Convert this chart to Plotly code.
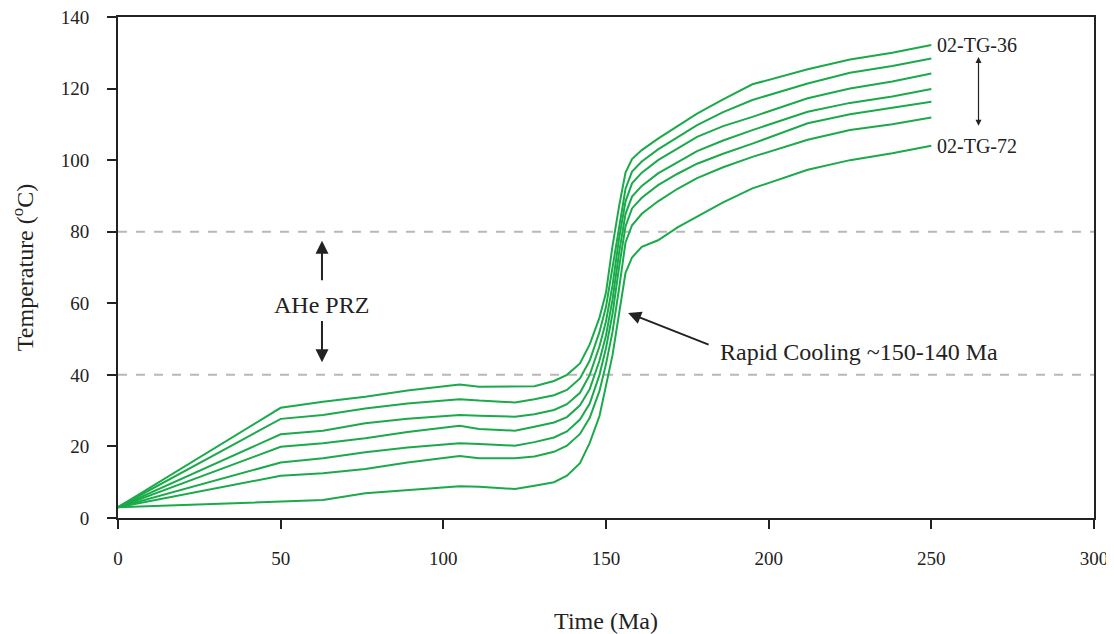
import plotly.graph_objects as go

time_ma = [0, 50, 63, 76, 89, 105, 111, 122, 128, 134, 138, 142, 145, 148, 150, 152, 154, 156, 158, 161, 166, 172, 178, 186, 195, 212, 225, 238, 250]

tg36 = [3, 30.8, 32.5, 33.9, 35.6, 37.3, 36.7, 36.7, 36.8, 38.3, 40.0, 43.2, 48.5, 56, 63, 76, 87, 96.5, 100.3, 102.8, 106, 109.5, 113, 117, 121.2, 125.4, 128.1, 130, 132.2]
line2 = [3, 27.7, 28.8, 30.6, 32.0, 33.2, 32.8, 32.3, 33.2, 34.3, 35.8, 39, 44, 52, 59, 70, 82, 92, 96.8, 99.6, 103, 106.5, 109.8, 113.4, 116.8, 121.4, 124.4, 126.3, 128.4]
line3 = [3, 23.4, 24.4, 26.5, 27.7, 28.8, 28.6, 28.3, 29, 30.2, 31.8, 35, 40, 48, 55, 65, 78, 88.5, 93.5, 96.5, 100, 103.3, 106.5, 109.5, 112.1, 117.3, 120, 122, 124.2]
line4 = [3, 19.9, 20.9, 22.3, 24.0, 25.8, 24.9, 24.4, 25.5, 26.7, 28.2, 31.5, 36, 44, 51, 61, 74, 85, 89.8, 92.8, 96.3, 99.5, 102.5, 105.5, 108.4, 113.5, 116, 117.8, 119.9]
line5 = [3, 15.5, 16.7, 18.4, 19.7, 20.9, 20.7, 20.2, 21.2, 22.5, 24.2, 27.5, 32, 40, 47.5, 57, 70, 81.5, 86.5, 89.5, 93, 96.2, 99, 101.8, 104.6, 110.3, 112.8, 114.6, 116.3]
line6 = [3, 11.8, 12.5, 13.7, 15.5, 17.3, 16.7, 16.7, 17.2, 18.5, 20.2, 23.5, 28, 35.5, 43, 52, 64, 77, 81.8, 85, 88.5, 92, 95, 98, 100.9, 105.7, 108.4, 110, 111.9]
tg72 = [3, 4.6, 5.0, 6.9, 7.8, 8.9, 8.7, 8.1, 9.0, 10.0, 11.8, 15.3, 21, 28.5, 37, 45.5, 57, 68.5, 72.8, 75.8, 77.6, 81.2, 84.2, 88.2, 92.1, 97.3, 100, 101.9, 104]

series = [tg36, line2, line3, line4, line5, line6, tg72]
prz_bounds = [40, 80]
x_ticks = [0, 50, 100, 150, 200, 250, 300]
y_ticks = [0, 20, 40, 60, 80, 100, 120, 140]

GREEN = "#1aaa4a"
FONT = "Liberation Serif"
INK = "#222222"

fig = go.Figure()
for s in series:
    fig.add_trace(go.Scatter(x=time_ma, y=s, mode="lines",
                             line=dict(color=GREEN, width=2), showlegend=False,
                             hoverinfo="skip"))

for yb in prz_bounds:
    fig.add_shape(type="line", xref="x", yref="y", x0=0, x1=300, y0=yb, y1=yb,
                  line=dict(color="#b8b8b8", width=2, dash="dash"), layer="below")

# AHe PRZ label and arrows
fig.add_annotation(x=62.7, y=59.5, text="AHe PRZ", showarrow=False,
                   font=dict(family=FONT, size=24, color=INK))
fig.add_annotation(x=62.7, y=77.5, ax=62.7, ay=66, xref="x", yref="y", axref="x", ayref="y",
                   text="", showarrow=True, arrowhead=2, arrowsize=1.3, arrowwidth=2, arrowcolor=INK)
fig.add_annotation(x=62.7, y=43.5, ax=62.7, ay=55.5, xref="x", yref="y", axref="x", ayref="y",
                   text="", showarrow=True, arrowhead=2, arrowsize=1.3, arrowwidth=2, arrowcolor=INK)

# Rapid cooling
fig.add_annotation(x=184.3, y=46.3, text="Rapid Cooling ~150-140 Ma", showarrow=False,
                   xanchor="left", font=dict(family=FONT, size=24, color=INK))
fig.add_annotation(x=156.8, y=57.3, ax=182, ay=48.3, xref="x", yref="y", axref="x", ayref="y",
                   text="", showarrow=True, arrowhead=2, arrowsize=1.3, arrowwidth=2, arrowcolor=INK)

# sample labels
fig.add_annotation(x=251.2, y=132.3, text="02-TG-36", showarrow=False, xanchor="left",
                   font=dict(family=FONT, size=20, color=INK))
fig.add_annotation(x=251.0, y=104, text="02-TG-72", showarrow=False, xanchor="left",
                   font=dict(family=FONT, size=20, color=INK))
fig.add_annotation(x=264.5, y=128.8, ax=264.5, ay=109.2, xref="x", yref="y", axref="x", ayref="y",
                   text="", showarrow=True, arrowhead=2, arrowside="end+start", arrowsize=1,
                   arrowwidth=1.2, arrowcolor=INK)

# page body has an 8px margin, so the figure is sized/placed to compensate
fig.update_layout(
    width=1106, height=626,
    margin=dict(l=110, r=20, t=9, b=116),
    paper_bgcolor="white", plot_bgcolor="white",
    font=dict(family=FONT, color=INK),
    xaxis=dict(range=[0, 300], tickvals=x_ticks, showgrid=False, zeroline=False,
               showline=True, linecolor=INK, linewidth=2, mirror=True, automargin=False,
               ticks="outside", ticklen=9, tickwidth=2, tickcolor=INK,
               ticklabelstandoff=13, tickfont=dict(size=19), ticklabeloverflow="allow",
               title=dict(text="Time (Ma)", font=dict(size=24), standoff=46)),
    yaxis=dict(range=[0, 140], tickvals=y_ticks, showgrid=False, zeroline=False,
               showline=True, linecolor=INK, linewidth=2, mirror=True, automargin=False,
               ticks="outside", ticklen=9, tickwidth=2, tickcolor=INK,
               ticklabelstandoff=14, tickfont=dict(size=19), ticklabeloverflow="allow",
               title=dict(text="Temperature (<sup>o</sup>C)", font=dict(size=24), standoff=21)),
)

fig.write_html("out.html")
